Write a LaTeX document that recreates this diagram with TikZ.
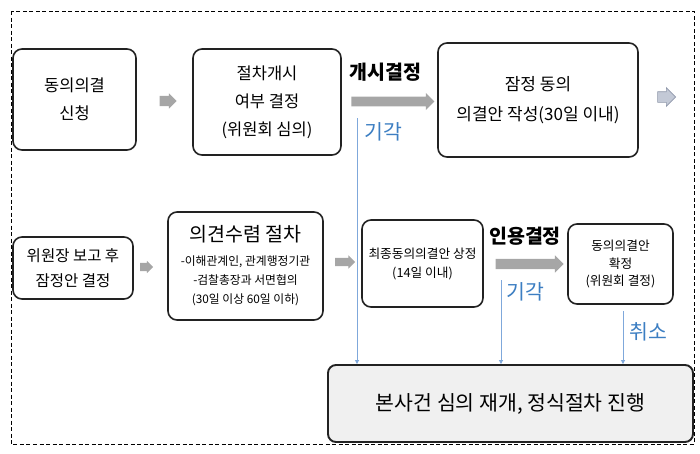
\documentclass[tikz,border=0pt]{standalone}
\usepackage{fontspec}
\setmainfont{Noto Sans CJK KR}
\usetikzlibrary{shapes.arrows,arrows.meta}
\definecolor{boxline}{HTML}{222222}
\definecolor{arrgray}{HTML}{A6A6A6}
\definecolor{bluetxt}{HTML}{3C7EC2}
\definecolor{blueline}{HTML}{7FA8DB}
\definecolor{bluegray}{HTML}{C3C9D6}
\definecolor{bluegrayline}{HTML}{8F98AA}
\definecolor{finfill}{HTML}{F0F0F0}
\newcommand\fsz[2]{\fontsize{#1}{#2}\selectfont}
\begin{document}
\begin{tikzpicture}[x=1pt,y=-1pt,
  box/.style={draw=boxline,line width=1.6pt,rounded corners=9pt,align=center,inner sep=0pt},
  blk/.style={single arrow,fill=arrgray,inner xsep=0pt,single arrow head indent=0pt,single arrow tip angle=90},
  lbl/.style={font=\fsz{19.5}{22}\bfseries,inner sep=0pt},
  rej/.style={text=bluetxt,font=\fsz{20.5}{22},inner sep=0pt},
  vline/.style={draw=blueline,line width=0.8pt,-{Triangle[length=4pt,width=4pt]}},
]
\useasboundingbox (0,0) rectangle (700,453);
\draw[dashed,dash pattern=on 4pt off 2.5pt,line width=0.9pt] (11,11) rectangle (694,444);

% row 1
\node[box,minimum width=123pt,minimum height=101pt,font=\fsz{16.5}{28}] (n1) at (74.5,99.5) {동의의결\\신청};
\node[box,minimum width=148pt,minimum height=106pt,font=\fsz{16.5}{28}] (n2) at (267,102) {절차개시\\여부 결정\\(위원회 심의)};
\node[box,minimum width=200pt,minimum height=114pt,font=\fsz{17}{30}] (n3) at (538,100) {잠정 동의\\의결안 작성(30일 이내)};

\node[blk,minimum height=17pt,inner ysep=5pt,single arrow head extend=2.5pt] (a1) at (165.5,101) {};
\node[blk,minimum height=83pt,inner ysep=4.75pt,single arrow head extend=3.75pt] (a2) at (390.5,101.5) {};
\node[blk,fill=bluegray,draw=bluegrayline,line width=0.6pt,minimum height=18pt,inner ysep=5pt,single arrow head extend=4pt] (a3) at (664,97) {};

\node[lbl] (l1) at (385.5,72) {개시결정};
\node[rej] (r1) at (383,132) {기각};

% row 2
\node[box,minimum width=120pt,minimum height=62pt,font=\fsz{15.5}{25}] (m1) at (73,268) {위원장 보고 후\\잠정안 결정};
\node[box,minimum width=155pt,minimum height=108pt,font=\fsz{11.8}{19}] (m2) at (245.5,266) {{\fsz{19.5}{22}의견수렴 절차}\\[5pt]-이해관계인, 관계행정기관\\-검찰총장과 서면협의\\(30일 이상 60일 이하)};
\node[box,minimum width=121pt,minimum height=87pt,font=\fsz{12.7}{19}] (m3) at (422.5,263.5) {최종동의의결안 상정\\(14일 이내)};
\node[box,minimum width=105pt,minimum height=80pt,font=\fsz{12.7}{17.5}] (m4) at (620.5,264) {동의의결안\\확정\\(위원회 결정)};

\node[blk,minimum height=13pt,inner ysep=4pt,single arrow head extend=2pt] (b1) at (144.5,267) {};
\node[blk,minimum height=20pt,inner ysep=4pt,single arrow head extend=2.5pt] (b2) at (343,262) {};
\node[blk,minimum height=68pt,inner ysep=5pt,single arrow head extend=3.5pt] (b3) at (527,264) {};

\node[lbl] (l2) at (525,236) {인용결정};
\node[rej] (r2) at (525.5,292) {기각};
\node[rej] (r3) at (648.5,332) {취소};

% final box
\node[box,line width=1.9pt,fill=finfill,rounded corners=8pt,minimum width=365pt,minimum height=77pt,font=\fsz{20.5}{22}] (fin) at (510.5,403.5) {본사건 심의 재개, 정식절차 진행};

% blue connectors
\coordinate (c1) at (357,118);
\coordinate (c2) at (501,280);
\coordinate (c3) at (623,311);
\draw[vline] (c1) -- (c1 |- fin.north);
\draw[vline] (c2) -- (c2 |- fin.north);
\draw[vline] (c3) -- (c3 |- fin.north);
\end{tikzpicture}
\end{document}
